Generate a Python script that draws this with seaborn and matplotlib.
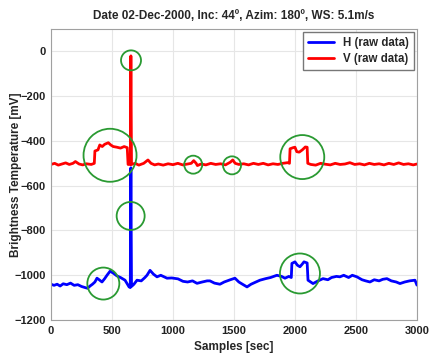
import pandas as pd
import matplotlib.pyplot as plt
import seaborn as sns

# Leituras aproximadas (amostra [s], temperatura de brilho [mV])
h_samples = [0, 25, 50, 75, 100, 130, 160, 190, 220, 250, 280, 300, 320, 340, 360, 377, 395, 418,
             440, 459, 484, 510, 541, 570, 607, 640, 650, 655, 660, 680, 705, 740, 770, 787, 812,
             840, 869, 900, 951, 990, 1041, 1082, 1120, 1160, 1197, 1240, 1280, 1303, 1340, 1385,
             1420, 1470, 1508, 1540, 1570, 1607, 1640, 1680, 1713, 1760, 1800, 1852, 1890, 1918,
             1950, 1970, 1975, 2000, 2020, 2041, 2060, 2074, 2100, 2107, 2148, 2190, 2230, 2270,
             2300, 2340, 2369, 2400, 2440, 2470, 2508, 2550, 2580, 2615, 2650, 2690, 2720, 2754,
             2790, 2830, 2861, 2900, 2940, 2984, 3000]
h_values = [-1040, -1045, -1040, -1048, -1038, -1042, -1035, -1045, -1042, -1050, -1055, -1058,
            -1048, -1040, -1030, -1013, -1020, -1030, -1015, -1000, -982, -990, -1003, -1010,
            -1022, -1052, -1055, -520, -1050, -1040, -1022, -1025, -1010, -1000, -978, -995,
            -1007, -1000, -1013, -1012, -1016, -1027, -1030, -1025, -1036, -1030, -1025, -1025,
            -1035, -1040, -1030, -1020, -1013, -1030, -1040, -1052, -1040, -1030, -1022, -1015,
            -1010, -1000, -1005, -1013, -1005, -1010, -947, -940, -955, -962, -950, -940, -945,
            -1022, -1037, -1025, -1015, -1020, -1010, -1005, -1007, -1000, -1010, -1000, -1007,
            -1020, -1025, -1030, -1020, -1025, -1018, -1015, -1025, -1030, -1037, -1030, -1025,
            -1022, -1044]

v_samples = [0, 30, 60, 90, 120, 150, 180, 200, 230, 260, 290, 330, 355, 360, 385, 400, 420, 440,
             470, 490, 510, 540, 570, 600, 625, 632, 650, 655, 660, 690, 720, 760, 795, 820, 850,
             880, 920, 960, 1000, 1040, 1080, 1120, 1150, 1170, 1190, 1200, 1230, 1270, 1310, 1350,
             1390, 1430, 1470, 1490, 1510, 1540, 1580, 1620, 1660, 1700, 1740, 1780, 1820, 1860,
             1900, 1940, 1955, 1960, 1985, 2000, 2015, 2035, 2060, 2085, 2100, 2105, 2130, 2170,
             2210, 2250, 2290, 2330, 2370, 2410, 2450, 2490, 2530, 2570, 2610, 2650, 2690, 2730,
             2770, 2810, 2850, 2890, 2930, 2970, 3000]
v_values = [-505, -500, -508, -503, -498, -505, -500, -492, -503, -507, -502, -505, -500, -445,
            -440, -418, -425, -415, -408, -418, -425, -428, -432, -425, -430, -505, -505, -20,
            -505, -500, -508, -500, -485, -500, -507, -503, -508, -502, -506, -500, -507, -503,
            -500, -488, -500, -510, -503, -507, -500, -505, -502, -507, -495, -485, -500, -505,
            -502, -507, -500, -505, -500, -507, -502, -505, -500, -497, -500, -435, -430, -428,
            -448, -450, -440, -427, -428, -500, -505, -508, -500, -504, -507, -500, -505, -503,
            -497, -505, -502, -507, -500, -505, -502, -507, -500, -505, -498, -505, -502, -507,
            -503]

# Círculos verdes de destaque (centro em amostra/mV, raio em pixels)
circle_x = [484, 656, 653, 429, 1166, 1484, 2060, 2041]
circle_y = [-464, -40, -735, -1037, -506, -509, -472, -992]
circle_r = [26.5, 10, 14, 16, 9, 9, 22, 20]

df = pd.concat([
    pd.DataFrame({"Samples": h_samples, "Temp": h_values, "Canal": "H (raw data)"}),
    pd.DataFrame({"Samples": v_samples, "Temp": v_values, "Canal": "V (raw data)"}),
])

sns.set_theme(style="whitegrid")
plt.rcParams['font.family'] = ['Liberation Sans', 'DejaVu Sans']
plt.rcParams['font.weight'] = 'bold'

fig = plt.figure(figsize=(4.3, 3.58), dpi=100)
ax = fig.add_axes([0.1186, 0.106, 0.851, 0.813])

sns.lineplot(data=df, x="Samples", y="Temp", hue="Canal",
             palette={"H (raw data)": "#0000ff", "V (raw data)": "#ff0000"},
             estimator=None, sort=False, linewidth=2.0, ax=ax)

sizes = [(2 * r * 0.72) ** 2 for r in circle_r]
ax.scatter(circle_x, circle_y, s=sizes, facecolors="none",
           edgecolors="#2a9a32", linewidths=1.3, zorder=5)

ax.set_xlim(0, 3000)
ax.set_ylim(-1200, 100)
ax.set_xticks(range(0, 3001, 500))
ax.set_yticks(range(-1200, 1, 200))
ax.grid(True, color="#e6e6e6", linewidth=0.8)
for s in ax.spines.values():
    s.set_color("#a0a0a0")
    s.set_linewidth(0.8)
ax.tick_params(direction="in", length=3, labelsize=8, pad=4, colors="#222222")

ax.set_title("Date 02-Dec-2000, Inc: 44º, Azim: 180º, WS: 5.1m/s",
             fontsize=8.5, fontweight="bold", pad=7)
ax.set_xlabel("Samples [sec]", fontsize=8.5, fontweight="bold", labelpad=4)
ax.set_ylabel("Brightness Temperature [mV]", fontsize=8.5, fontweight="bold", labelpad=-6)

leg = ax.legend(loc="upper right", fontsize=8.3, frameon=True, fancybox=False,
                borderaxespad=0.25, handlelength=2.2, borderpad=0.45, labelspacing=0.35)
leg.get_frame().set_edgecolor("#777777")
leg.get_frame().set_alpha(1)
for line in leg.get_lines():
    line.set_linewidth(2.0)

fig.savefig("out.png", dpi=100)
